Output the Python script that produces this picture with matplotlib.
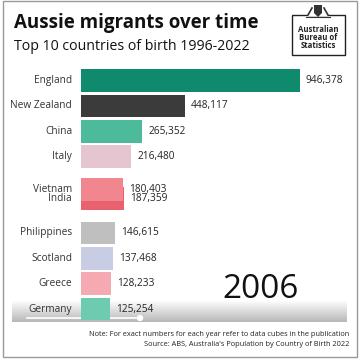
# =========================================================
# 1. IMPORT LIBRARIES
# =========================================================
import numpy as np
import matplotlib.pyplot as plt
from matplotlib.patches import Rectangle, Circle, Polygon

# =========================================================
# 2. DATA
# =========================================================
countries = ["England", "New Zealand", "China", "Italy", "Vietnam",
             "India", "Philippines", "Scotland", "Greece", "Germany"]
values = [946378, 448117, 265352, 216480, 180403,
          187359, 146615, 137468, 128233, 125254]
colors = ["#0f8a6c", "#3b3b3b", "#4dbb9b", "#e5c5d0", "#f2868f",
          "#e9616f", "#bfbfbf", "#c9cde3", "#f5a9b2", "#6dcbb0"]
year = "2006"

title = "Aussie migrants over time"
subtitle = "Top 10 countries of birth 1996-2022"
note = "Note: For exact numbers for each year refer to data cubes in the publication"
source = "Source: ABS, Australia's Population by Country of Birth 2022"

plt.rcParams['font.family'] = ["Open Sans", "DejaVu Sans"]

# =========================================================
# 3. FIGURE
# =========================================================
W = 360
fig = plt.figure(figsize=(3.6, 3.6), dpi=100)
fig.patch.set_facecolor("white")

# background axes in pixel units (0..360, y down)
ov = fig.add_axes([0, 0, 1, 1], zorder=0)
ov.set_xlim(0, W)
ov.set_ylim(W, 0)
ov.axis("off")

# bar axes: left edge at 81px, 219px per 946,378
left_px, top_px, bottom_px = 81, 60, 330
px_per_unit = 219 / 946378
row0, step = 80.5, 25.4
ax = fig.add_axes([left_px / W, (W - bottom_px) / W,
                   (W - left_px) / W, (bottom_px - top_px) / W], zorder=1)
ax.set_xlim(0, (W - left_px) / px_per_unit)
ax.set_ylim((bottom_px - row0) / step, (top_px - row0) / step)
ax.axis("off")
ax.patch.set_alpha(0)

# Vietnam / India are mid-swap in this frame
shift = {"Vietnam": 0.29, "India": -0.35}
pos = [i + shift.get(c, 0) for i, c in enumerate(countries)]

order = [5, 4] + [i for i in range(len(countries)) if i not in (4, 5)]
for i in order:
    ax.barh(pos[i], values[i], height=0.89, color=colors[i], edgecolor="none")

for i, c in enumerate(countries):
    ax.text(-9 / px_per_unit, pos[i], c, ha="right", va="center",
            fontsize=7.3, color="#333333")
    ax.text(values[i] + 6 / px_per_unit, pos[i], f"{values[i]:,}",
            ha="left", va="center", fontsize=7.3, color="#222222")

# =========================================================
# 4. TITLES, LOGO, FOOTER
# =========================================================
ov.text(14, 23, title, fontsize=13.5, fontweight="bold", color="#111111",
        va="center", ha="left")
ov.text(14, 46, subtitle, fontsize=10.2, color="#111111",
        va="center", ha="left")

# logo
ov.add_patch(Rectangle((292, 15), 53, 40, fill=False, ec="#222222", lw=1.0))
ov.add_patch(Rectangle((308, 6), 20, 10, fc="white", ec="none"))
ov.add_patch(Polygon([[314, 5], [322, 5], [322, 13], [318, 17], [314, 13]],
                     closed=True, fc="#333333", ec="none"))
ov.plot([308, 312], [15, 8], color="#333333", lw=1.2)
ov.plot([328, 324], [15, 8], color="#333333", lw=1.2)
ov.plot([306, 330], [17, 17], color="#333333", lw=0.8)
for k, line in enumerate(["Australian", "Bureau of", "Statistics"]):
    ov.text(318.5, 30 + k * 8, line, fontsize=5.6, fontweight="bold",
            ha="center", va="center", color="#222222")

# year
ov.text(261, 289, year, fontsize=24, ha="center", va="center", color="#111111")

# player scrub bar (video frame)
grad = np.linspace(1.0, 0.72, 40).reshape(-1, 1)
ov.imshow(grad, cmap="gray", vmin=0, vmax=1, extent=(12, 347, 322, 300),
          aspect="auto")
ov.plot([27, 140], [318, 318], color="white", lw=1.2)
ov.add_patch(Circle((140, 318), 3.2, fc="white", ec="none"))
ov.set_xlim(0, W)
ov.set_ylim(W, 0)

ov.text(349, 335, note, fontsize=5.35, ha="right", va="center", color="#222222")
ov.text(349, 345, source, fontsize=5.35, ha="right", va="center", color="#222222")

# frame
ov.add_patch(Rectangle((3, 1), 354, 356, fill=False, ec="#999999", lw=1.0))

fig.savefig("out.png", dpi=100)
